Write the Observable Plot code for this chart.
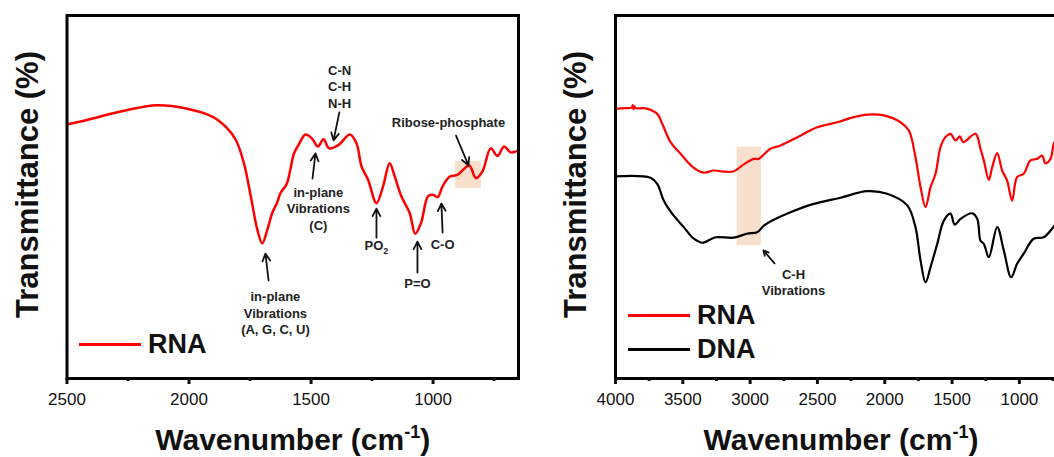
<!DOCTYPE html>
<html><head><meta charset="utf-8">
<script src="https://cdn.jsdelivr.net/npm/d3@7"></script>
<script src="https://cdn.jsdelivr.net/npm/@observablehq/plot@0.6"></script>
<style>
body{margin:0;background:#fff;}
#wrap{position:relative;width:1054px;height:457px;overflow:hidden;background:#fff;font-family:"Liberation Sans",Arial,sans-serif;}
.panel{position:absolute;top:0;height:457px;}
.panel svg{max-width:none !important;}
.leg-line{position:absolute;height:3px;width:62px;}
.leg-text{position:absolute;font-weight:bold;font-size:27px;line-height:27px;color:#111;}
</style></head><body>
<div id="wrap">
  <div class="panel" id="left" style="left:0px;width:530px"></div>
  <div class="panel" id="right" style="left:530px;width:540px"></div>
  <div class="leg-line" style="left:79px;top:342.5px;background:#ff0000"></div>
  <div class="leg-text" style="left:148px;top:331px">RNA</div>
  <div class="leg-line" style="left:628px;top:313.5px;background:#ff0000"></div>
  <div class="leg-text" style="left:697px;top:302px">RNA</div>
  <div class="leg-line" style="left:628px;top:347.5px;background:#000"></div>
  <div class="leg-text" style="left:697px;top:336px">DNA</div>
</div>
<script>
// ---------- data ----------
const leftRnaWavenumber = [2500, 2430, 2363, 2256, 2134, 2012, 1903, 1849, 1808, 1775, 1747, 1720, 1700, 1679, 1659, 1640, 1625, 1600, 1585, 1570, 1550, 1523, 1496, 1472, 1449, 1426, 1388, 1341, 1314, 1293, 1266, 1232, 1205, 1178, 1157, 1130, 1096, 1073, 1049, 1021, 1001, 981, 961, 933, 900, 852, 825, 798, 764, 736, 709, 682, 651];
const leftRnaValue = [70.0, 71.0, 72.2, 73.9, 75.3, 74.4, 72.1, 69.3, 65.7, 59.3, 50.2, 41.0, 37.2, 41.0, 45.6, 48.3, 51.1, 53.6, 57.5, 62.0, 64.5, 67.2, 66.1, 63.9, 65.9, 63.4, 64.3, 67.2, 64.8, 58.4, 54.7, 48.3, 52.9, 59.3, 55.6, 50.2, 45.6, 39.9, 42.9, 50.2, 50.6, 50.0, 52.9, 55.6, 56.1, 58.7, 55.2, 57.0, 63.4, 61.3, 63.9, 62.3, 62.8];

const rightRnaWavenumber = [4000, 3926, 3880, 3872, 3866, 3860, 3852, 3777, 3690, 3653, 3591, 3517, 3418, 3344, 3270, 3198, 3121, 3047, 2973, 2938, 2849, 2774, 2626, 2502, 2353, 2230, 2130, 2007, 1883, 1821, 1772, 1734, 1697, 1660, 1623, 1586, 1549, 1512, 1474, 1442, 1417, 1326, 1289, 1264, 1227, 1202, 1165, 1128, 1091, 1054, 1017, 968, 918, 869, 831, 807, 769, 739, 700, 650];
const rightRnaValue = [74.3, 74.5, 74.6, 75.3, 74.2, 75.0, 74.5, 74.4, 72.9, 70.2, 65.1, 61.9, 58.0, 56.7, 57.3, 57.0, 57.1, 59.0, 60.5, 60.5, 63.3, 64.2, 66.9, 69.2, 70.6, 72.0, 72.7, 72.5, 70.6, 68.3, 61.0, 52.7, 47.2, 52.7, 56.4, 63.7, 66.5, 67.4, 65.6, 66.7, 65.1, 67.4, 63.3, 60.1, 54.7, 58.2, 62.1, 57.3, 54.5, 49.0, 55.5, 56.4, 60.1, 60.5, 61.4, 59.3, 60.5, 65.1, 66.0, 67.0];

const rightDnaWavenumber = [4000, 3740, 3690, 3641, 3579, 3493, 3418, 3356, 3257, 3121, 3022, 2947, 2898, 2836, 2700, 2527, 2329, 2130, 1982, 1833, 1772, 1734, 1697, 1660, 1610, 1561, 1512, 1480, 1437, 1350, 1313, 1289, 1264, 1227, 1165, 1116, 1061, 1017, 968, 894, 820, 739, 700, 650];
const rightDnaValue = [55.7, 55.3, 53.6, 49.0, 45.4, 41.7, 38.5, 37.4, 38.9, 38.8, 39.9, 40.3, 42.1, 43.5, 45.8, 48.1, 49.8, 51.6, 50.9, 47.7, 41.7, 32.5, 26.5, 30.7, 37.1, 43.5, 45.4, 42.4, 44.0, 45.5, 44.0, 38.0, 37.1, 33.4, 41.7, 35.3, 27.9, 31.6, 34.4, 38.5, 38.9, 42.1, 44.0, 46.0];

const leftDomain = [2500, 650];
const rightDomain = [4000, 650];
const leftMajorTicks = [2500, 2000, 1500, 1000];
const leftMinorTicks = [2250, 1750, 1250, 750];
const rightMajorTicks = [4000, 3500, 3000, 2500, 2000, 1500, 1000];
const rightMinorTicks = [3750, 3250, 2750, 2250, 1750, 1250, 750];

const xTitle = "Wavenumber (cm⁻¹)";
const yTitle = "Transmittance (%)";

// annotations (anchored in data space)
const leftLabelText = ["C-N\nC-H\nN-H", "in-plane\nVibrations\n(C)", "in-plane\nVibrations\n(A, G, C, U)", "PO₂", "P=O", "C-O", "Ribose-phosphate"];
const leftLabelW = [1383, 1470, 1646, 1232, 1064, 961, 937];
const leftLabelV = [80.6, 47.0, 18.2, 36.9, 26.4, 37.2, 70.7];
const leftArrowW1 = [1384, 1494, 1674, 1232, 1064, 961, 906];
const leftArrowV1 = [73.3, 55.1, 27.0, 38.8, 29.2, 40.2, 66.9];
const leftArrowW2 = [1408, 1482, 1687, 1232, 1064, 966, 855];
const leftArrowV2 = [65.6, 62.0, 34.4, 46.8, 37.7, 48.2, 58.7];
const leftBand = {w1: 908, w2: 802, v1: 52.3, v2: 59.8};

const rightLabelText = ["C-H\nVibrations"];
const rightLabelW = [2678];
const rightLabelV = [26.6];
const rightArrowW1 = [2819];
const rightArrowV1 = [31.7];
const rightArrowW2 = [2901];
const rightArrowV2 = [35.3];
const rightBand = {w1: 3096, w2: 2916, v1: 36.6, v2: 63.7};

// ---------- helpers ----------
const FONT = '"Liberation Sans", Arial, sans-serif';
const zipSeries = (ws, vs) => ws.map((w, i) => ({w, v: vs[i]}));
const zipLabels = (t, w, v) => t.map((s, i) => ({text: s, w: w[i], v: v[i]}));
const zipArrows = (w1, v1, w2, v2) => w1.map((d, i) => ({w1: d, v1: v1[i], w2: w2[i], v2: v2[i]}));

function panel({width, marginLeft, marginRight, domain, major, minor, band, series, labels, arrows}) {
  return Plot.plot({
    width, height: 457, marginLeft, marginRight, marginTop: 15, marginBottom: 79,
    style: {fontFamily: FONT, background: "transparent", color: "#111", overflow: "visible", maxWidth: "none"},
    x: {domain},
    y: {domain: [0, 100], axis: null},
    marks: [
      Plot.rect([band], {x1: "w1", x2: "w2", y1: "v1", y2: "v2", fill: "#f9e0cd"}),
      ...series.map(s => Plot.line(s.data, {x: "w", y: "v", stroke: s.color, strokeWidth: s.width, curve: "catmull-rom", clip: true})),
      Plot.arrow(arrows, {x1: "w1", y1: "v1", x2: "w2", y2: "v2", stroke: "#111", strokeWidth: 1.8, headLength: 7, headAngle: 55}),
      Plot.text(labels, {x: "w", y: "v", text: "text", fontSize: 13, fontWeight: "bold", lineHeight: 1.27, fill: "#222"}),
      Plot.frame({stroke: "#000", strokeWidth: 3}),
      Plot.axisX({ticks: major, tickSize: 6, tickPadding: 8, strokeWidth: 3, fontSize: 17, tickFormat: d3.format("d"), label: null}),
      Plot.axisX({ticks: minor, tickSize: 3, strokeWidth: 3, tickFormat: () => "", label: null}),
      Plot.text([yTitle], {text: d => d, frameAnchor: "left", textAnchor: "middle", lineAnchor: "middle", rotate: -90, dx: -39, dy: -12.5, fontSize: 31, fontWeight: "bold", fill: "#111"}),
      Plot.text([xTitle], {text: d => d, frameAnchor: "bottom", textAnchor: "middle", lineAnchor: "middle", dy: 62, fontSize: 30, fontWeight: "bold", fill: "#111"})
    ]
  });
}

function fixScripts(svg) {
  d3.select(svg).selectAll("text").each(function () {
    const t = this.textContent;
    if (this.querySelector("tspan")) return;
    if (t.includes("⁻¹")) {
      const [a, b] = t.split("⁻¹");
      const el = d3.select(this); el.text(null);
      el.append("tspan").text(a);
      el.append("tspan").attr("dy", -12).attr("font-size", 18).text("-1");
      el.append("tspan").attr("dy", 12).text(b);
    } else if (t.includes("₂")) {
      const [a, b] = t.split("₂");
      const el = d3.select(this); el.text(null);
      el.append("tspan").text(a);
      el.append("tspan").attr("dy", 4).attr("font-size", 9).text("2");
      if (b) el.append("tspan").attr("dy", -4).text(b);
    }
  });
}

const leftSvg = panel({
  width: 530, marginLeft: 66.5, marginRight: 12,
  domain: leftDomain, major: leftMajorTicks, minor: leftMinorTicks,
  band: leftBand,
  series: [{data: zipSeries(leftRnaWavenumber, leftRnaValue), color: "#ff0000", width: 2.5}],
  labels: zipLabels(leftLabelText, leftLabelW, leftLabelV),
  arrows: zipArrows(leftArrowW1, leftArrowV1, leftArrowW2, leftArrowV2)
});
const rightSvg = panel({
  width: 540, marginLeft: 85, marginRight: 4,
  domain: rightDomain, major: rightMajorTicks, minor: rightMinorTicks,
  band: rightBand,
  series: [
    {data: zipSeries(rightRnaWavenumber, rightRnaValue), color: "#ff0000", width: 2.2},
    {data: zipSeries(rightDnaWavenumber, rightDnaValue), color: "#000000", width: 2.2}
  ],
  labels: zipLabels(rightLabelText, rightLabelW, rightLabelV),
  arrows: zipArrows(rightArrowW1, rightArrowV1, rightArrowW2, rightArrowV2)
});
fixScripts(leftSvg); fixScripts(rightSvg);
document.getElementById("left").appendChild(leftSvg);
document.getElementById("right").appendChild(rightSvg);
</script>
</body></html>
